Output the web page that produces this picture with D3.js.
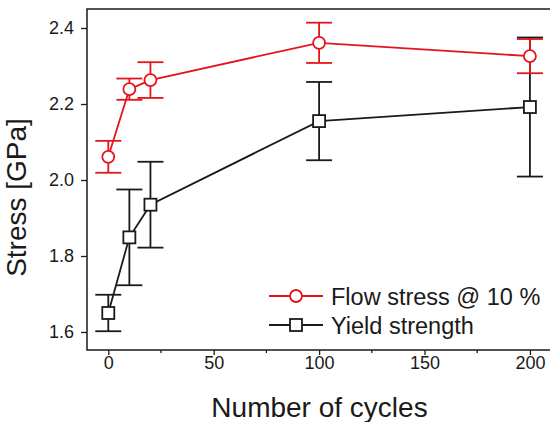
<!DOCTYPE html>
<html><head><meta charset="utf-8">
<script src="https://cdn.jsdelivr.net/npm/d3@7"></script>
<style>body{margin:0;background:#fff}svg{display:block}text{font-family:"Liberation Sans",Arial,sans-serif;fill:#1a1a1a}</style>
</head><body><svg id="c" width="550" height="422"></svg>
<script>
const cycles = [0, 10, 20, 100, 200];
const flowStress = [2.061, 2.239, 2.263, 2.361, 2.326];
const flowErr = [0.042, 0.028, 0.047, 0.053, 0.045];
const yieldStrength = [1.650, 1.849, 1.935, 2.155, 2.192];
const yieldErr = [0.048, 0.126, 0.113, 0.103, 0.183];
const xTicks = [0, 50, 100, 150, 200];
const yTicks = [1.6, 1.8, 2.0, 2.2, 2.4];
const seriesNames = ["Flow stress @ 10 %", "Yield strength"];
const red = "#e4141b", black = "#1a1a1a";

const svg = d3.select("#c");
const L = 87, T = 9, R = 551, B = 350;
const x = d3.scaleLinear().domain([-10, 210]).range([L + 0.2, R]);
const y = d3.scaleLinear().domain([1.5526, 2.45]).range([B, T]);

// axes
const xAxis = d3.axisBottom(x).tickValues(xTicks).tickFormat(d3.format("d")).tickSize(5).tickPadding(4);
const gx = svg.append("g").attr("transform", `translate(0,${B})`).call(xAxis);
gx.selectAll("line").attr("stroke", black).attr("stroke-width", 1.3);
gx.select(".domain").remove();
gx.selectAll("text").attr("font-size", 18).attr("fill", black).attr("dy", "0.72em").attr("y", 6);
// minor ticks
svg.append("g").selectAll("line").data([25, 75, 125, 175]).join("line")
  .attr("x1", d => x(d)).attr("x2", d => x(d)).attr("y1", B).attr("y2", B + 3)
  .attr("stroke", black).attr("stroke-width", 1.3);

const yAxis = d3.axisLeft(y).tickValues(yTicks).tickFormat(d3.format(".1f")).tickSize(6).tickPadding(7);
const gy = svg.append("g").attr("transform", `translate(${L},0)`).call(yAxis);
gy.selectAll("line").attr("stroke", black).attr("stroke-width", 1.3);
gy.select(".domain").remove();
gy.selectAll("text").attr("font-size", 18).attr("fill", black);

// frame
svg.append("path").attr("d", `M${R},${T}H${L}V${B}H${R}`).attr("fill", "none")
  .attr("stroke", black).attr("stroke-width", 1.5);

function drawSeries(vals, errs, color, shape) {
  const g = svg.append("g");
  const pts = cycles.map((c, i) => ({c, v: vals[i], e: errs[i]}));
  const cap = 13;
  pts.forEach(p => {
    g.append("line").attr("x1", x(p.c)).attr("x2", x(p.c)).attr("y1", y(p.v + p.e)).attr("y2", y(p.v - p.e))
      .attr("stroke", color).attr("stroke-width", 1.8);
    [p.v + p.e, p.v - p.e].forEach(v => g.append("line").attr("x1", x(p.c) - cap).attr("x2", x(p.c) + cap)
      .attr("y1", y(v)).attr("y2", y(v)).attr("stroke", color).attr("stroke-width", 1.8));
  });
  g.append("path").datum(pts).attr("fill", "none").attr("stroke", color).attr("stroke-width", 1.8)
    .attr("d", d3.line().x(d => x(d.c)).y(d => y(d.v)));
  pts.forEach(p => marker(g, x(p.c), y(p.v), color, shape));
}
function marker(g, cx, cy, color, shape) {
  if (shape === "circle") {
    g.append("circle").attr("cx", cx).attr("cy", cy).attr("r", 6).attr("fill", "#fff")
      .attr("stroke", color).attr("stroke-width", 1.8);
  } else {
    g.append("rect").attr("x", cx - 6).attr("y", cy - 6).attr("width", 12).attr("height", 12)
      .attr("fill", "#fff").attr("stroke", color).attr("stroke-width", 1.8);
  }
}
drawSeries(yieldStrength, yieldErr, black, "square");
drawSeries(flowStress, flowErr, red, "circle");

// legend
const leg = svg.append("g");
[[red, "circle", 296], [black, "square", 325]].forEach(([col, sh, ly], i) => {
  leg.append("line").attr("x1", 269).attr("x2", 323).attr("y1", ly).attr("y2", ly)
    .attr("stroke", col).attr("stroke-width", 1.8);
  marker(leg, 296, ly, col, sh);
  leg.append("text").attr("x", 331).attr("y", ly + 8.5).attr("font-size", 23.5).text(seriesNames[i]);
});

// axis titles
svg.append("text").attr("x", 319.5).attr("y", 416.5).attr("text-anchor", "middle")
  .attr("font-size", 28).text("Number of cycles");
svg.append("text").attr("transform", "translate(26,197.5) rotate(-90)").attr("text-anchor", "middle")
  .attr("font-size", 28).text("Stress [GPa]");
</script></body></html>
